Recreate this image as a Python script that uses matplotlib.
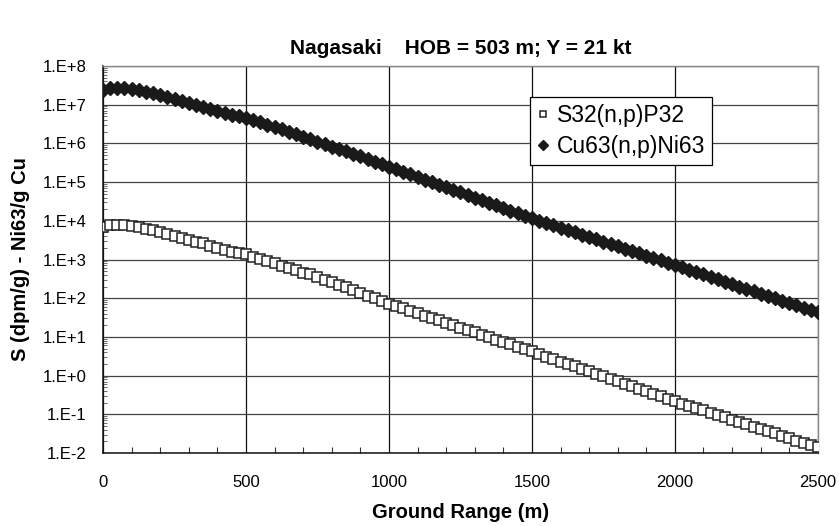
import math
import matplotlib
matplotlib.use("Agg")
import matplotlib.pyplot as plt
from matplotlib.ticker import FuncFormatter, MultipleLocator, LogLocator, NullFormatter

plt.rcParams['font.family'] = ['Liberation Sans', 'DejaVu Sans']

# Ground range (m), every 25 m
ground_range = [i * 25 for i in range(101)]

# S32(n,p)P32 activity (dpm/g)
s32 = [
    6.9e3, 7.6e3, 7.8e3, 7.6e3, 7.2e3, 6.8e3, 6.3e3, 5.8e3, 5.1e3, 4.6e3,
    4.1e3, 3.6e3, 3.2e3, 2.9e3, 2.6e3, 2.3e3, 2.0e3, 1.8e3, 1.6e3, 1.5e3,
    1.35e3, 1.18e3, 1.03e3, 9.1e2, 7.9e2, 6.9e2, 6.0e2, 5.3e2, 4.6e2, 4.1e2,
    3.5e2, 3.0e2, 2.6e2, 2.2e2, 1.9e2, 1.6e2, 1.38e2, 1.17e2, 1.0e2, 8.5e1,
    7.2e1, 6.3e1, 5.5e1, 4.7e1, 4.1e1, 3.5e1, 3.1e1, 2.7e1, 2.3e1, 2.0e1,
    1.74e1, 1.51e1, 1.31e1, 1.13e1, 9.8, 8.5, 7.4, 6.4, 5.5, 4.8,
    4.2, 3.6, 3.1, 2.7, 2.3, 2.0, 1.72, 1.49, 1.28, 1.11,
    0.95, 0.82, 0.71, 0.61, 0.53, 0.46, 0.39, 0.34, 0.29, 0.25,
    0.22, 0.19, 0.166, 0.145, 0.126, 0.110, 0.096, 0.084, 0.073, 0.064,
    0.056, 0.048, 0.042, 0.037, 0.032, 0.028, 0.024, 0.021, 0.0186, 0.0162,
    0.0141,
]

# Cu63(n,p)Ni63 (Ni63 atoms per g Cu)
cu63 = [
    2.34e7, 2.63e7, 2.75e7, 2.69e7, 2.57e7, 2.40e7, 2.19e7, 2.00e7, 1.78e7, 1.58e7,
    1.41e7, 1.26e7, 1.12e7, 1.00e7, 8.9e6, 7.9e6, 6.9e6, 6.2e6, 5.5e6, 5.0e6,
    4.57e6, 3.98e6, 3.47e6, 3.02e6, 2.63e6, 2.29e6, 1.95e6, 1.70e6, 1.48e6, 1.29e6,
    1.12e6, 9.7e5, 8.3e5, 7.2e5, 6.2e5, 5.3e5, 4.6e5, 3.9e5, 3.4e5, 2.9e5,
    2.5e5, 2.15e5, 1.85e5, 1.58e5, 1.36e5, 1.16e5, 1.0e5, 8.5e4, 7.3e4, 6.3e4,
    5.4e4, 4.6e4, 3.9e4, 3.4e4, 2.9e4, 2.5e4, 2.1e4, 1.82e4, 1.56e4, 1.34e4,
    1.15e4, 1.0e4, 8.7e3, 7.6e3, 6.6e3, 5.8e3, 5.0e3, 4.4e3, 3.8e3, 3.3e3,
    2.9e3, 2.5e3, 2.2e3, 1.9e3, 1.66e3, 1.45e3, 1.26e3, 1.10e3, 9.5e2, 8.3e2,
    7.2e2, 6.3e2, 5.5e2, 4.7e2, 4.1e2, 3.6e2, 3.1e2, 2.7e2, 2.3e2, 2.0e2,
    1.76e2, 1.53e2, 1.32e2, 1.15e2, 1.0e2, 8.7e1, 7.5e1, 6.5e1, 5.7e1, 4.9e1,
    4.3e1,
]

fig = plt.figure(figsize=(8.39, 5.26), dpi=100)
ax = fig.add_axes([0.1228, 0.1388, 0.852, 0.7357])

ax.plot(ground_range, s32, linestyle='none', marker='s', markersize=7,
        markerfacecolor='white', markeredgecolor='#222222', markeredgewidth=1.1,
        label='S32(n,p)P32', zorder=3)
ax.plot(ground_range, cu63, linestyle='none', marker='D', markersize=7.2,
        markerfacecolor='#1a1a1a', markeredgecolor='#1a1a1a',
        label='Cu63(n,p)Ni63', zorder=3)

ax.set_yscale('log')
ax.set_xlim(0, 2500)
ax.set_ylim(1e-2, 1e8)

ax.yaxis.set_major_locator(LogLocator(base=10, numticks=20))
ax.yaxis.set_minor_locator(LogLocator(base=10, subs=range(2, 10), numticks=200))
ax.yaxis.set_minor_formatter(NullFormatter())
ax.yaxis.set_major_formatter(FuncFormatter(lambda v, p: "1.E%+d" % round(math.log10(v))))

ax.xaxis.set_major_locator(MultipleLocator(500))
ax.xaxis.set_minor_locator(MultipleLocator(100))

ax.tick_params(axis='both', which='major', direction='in', length=0, labelsize=12)
ax.tick_params(axis='x', which='major', pad=16)
ax.tick_params(axis='y', which='major', pad=12)
ax.tick_params(axis='x', which='minor', direction='in', length=4, width=0.8, color='#333333')
ax.tick_params(axis='y', which='minor', direction='in', length=3, width=0.6, color='#555555')

ax.grid(True, axis='y', which='major', color='#444444', linewidth=0.9)
ax.grid(True, axis='x', which='major', color='#111111', linewidth=0.9)
ax.set_axisbelow(True)

for side in ('left', 'bottom'):
    ax.spines[side].set_color('#111111')
    ax.spines[side].set_linewidth(1.1)
for side in ('top', 'right'):
    ax.spines[side].set_color('#888888')
    ax.spines[side].set_linewidth(1.0)

ax.set_title('Nagasaki    HOB = 503 m; Y = 21 kt', fontsize=15, fontweight='bold', pad=9)
ax.set_xlabel('Ground Range (m)', fontsize=14.5, fontweight='bold', labelpad=9)
ax.set_ylabel('S (dpm/g) - Ni63/g Cu', fontsize=14.5, fontweight='bold', labelpad=9)

leg = ax.legend(loc='upper left', bbox_to_anchor=(0.598, 0.92), fontsize=16.5,
                frameon=True, fancybox=False, framealpha=1, edgecolor='black',
                handlelength=0.45, handletextpad=0.4, borderpad=0.3,
                labelspacing=0.35, markerscale=0.7, borderaxespad=0)
leg.get_frame().set_linewidth(0.9)

fig.savefig('out.png', dpi=100)
